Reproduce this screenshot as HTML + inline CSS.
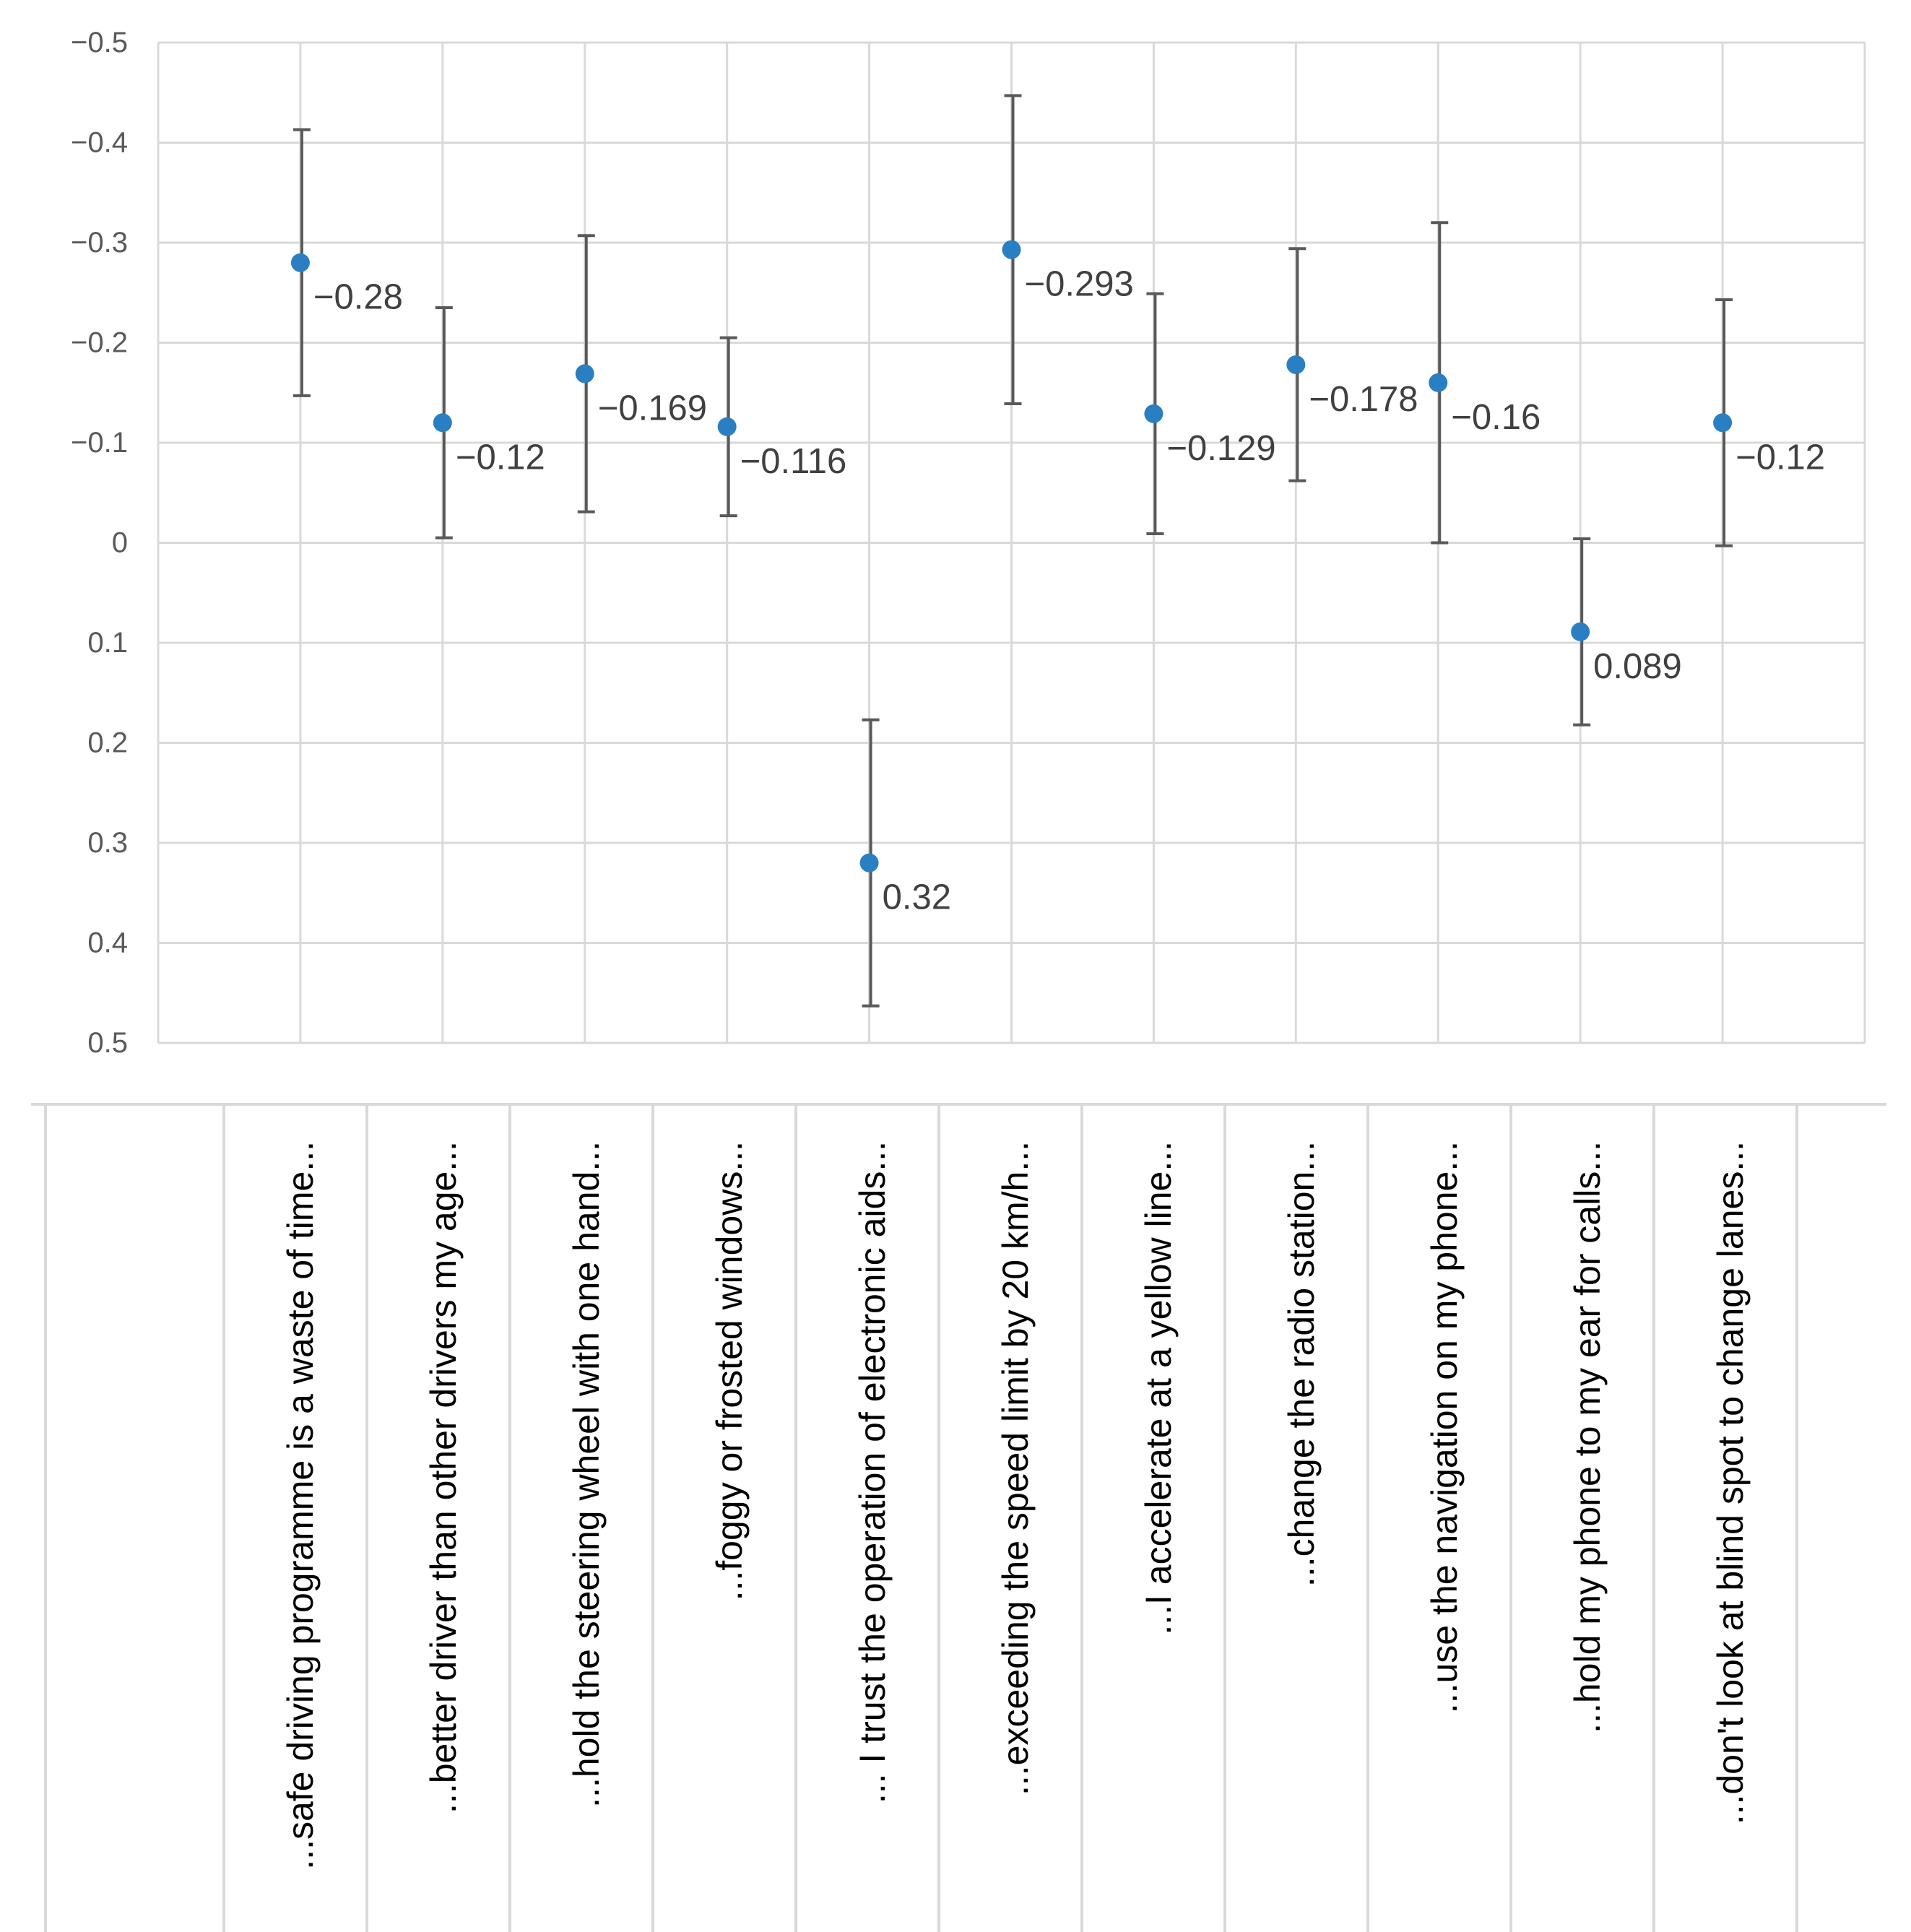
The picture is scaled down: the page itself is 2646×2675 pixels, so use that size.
<!DOCTYPE html>
<html><head><meta charset="utf-8"><style>
html,body{margin:0;padding:0;background:#fff;}
svg{display:block;font-family:"Liberation Sans",sans-serif;}
</style></head><body>
<svg id="chart" width="2646" height="2675" viewBox="0 0 2646 2675" xmlns="http://www.w3.org/2000/svg">
<g id="grid"></g>
<g id="ylabels"></g>
<g id="bars"></g>
<g id="pts"></g>
<g id="dlabels"></g>
<g id="table"></g>
</svg>
<script>
const categories = ["...safe driving programme is a waste of time...","...better driver than other drivers my age...","...hold the steering wheel with one hand...","...foggy or frosted windows...","... I trust the operation of electronic aids...","...exceeding the speed limit by 20 km/h...","...I accelerate at a yellow line...","...change the radio station...","...use the navigation on my phone...","...hold my phone to my ear for calls...","...don't look at blind spot to change lanes..."];
const values = [-0.28,-0.12,-0.169,-0.116,0.32,-0.293,-0.129,-0.178,-0.16,0.089,-0.12];
const errUpper = [0.133,0.115,0.138,0.089,0.143,0.154,0.12,0.116,0.16,0.093,0.123];
const errLower = [0.133,0.115,0.138,0.089,0.143,0.154,0.12,0.116,0.16,0.093,0.123];
const valueLabels = ["\u22120.28","\u22120.12","\u22120.169","\u22120.116","0.32","\u22120.293","\u22120.129","\u22120.178","\u22120.16","0.089","\u22120.12"];
const yTicks = [-0.5,-0.4,-0.3,-0.2,-0.1,0,0.1,0.2,0.3,0.4,0.5];
const yTickLabels = ["\u22120.5","\u22120.4","\u22120.3","\u22120.2","\u22120.1","0","0.1","0.2","0.3","0.4","0.5"];

const NS="http://www.w3.org/2000/svg";
const L=219,R=2582,T=59,B=1444;
const yMin=-0.5,yMax=0.5;
function y(v){return T+(v-yMin)/(yMax-yMin)*(B-T);}
const nSlots=categories.length+1;
function x(i){return L+(i+1)*(R-L)/nSlots;}
function mk(tag,attrs,parent){const e=document.createElementNS(NS,tag);for(const k in attrs)e.setAttribute(k,attrs[k]);parent.appendChild(e);return e;}
const G=document.getElementById('grid'),YL=document.getElementById('ylabels'),EB=document.getElementById('bars'),P=document.getElementById('pts'),DL=document.getElementById('dlabels'),TB=document.getElementById('table');
const gc="#d9d9d9";
yTicks.forEach((t,i)=>{
  const ln=mk('line',{x1:L,x2:R,y1:y(t),y2:y(t),stroke:gc,'stroke-width':3},G);
  
  
  const tx=mk('text',{x:177,y:y(t)+13,'text-anchor':'end','font-size':40,fill:'#595959'},YL);
  tx.textContent=yTickLabels[i];
  
  
});
for(let i=-1;i<nSlots;i++){
  const xv=L+(i+1)*(R-L)/nSlots;
  const ln=mk('line',{x1:xv,x2:xv,y1:T,y2:B,stroke:gc,'stroke-width':3},G);
  
  
}
values.forEach((v,i)=>{
  const cx=x(i)+2;
  const y1=y(v-errUpper[i]),y2=y(v+errLower[i]);
  const g=mk('g',{stroke:'#595959','stroke-width':4},EB);
  
  
  mk('line',{x1:cx,x2:cx,y1:y1,y2:y2},g);
  mk('line',{x1:cx-12,x2:cx+12,y1:y1,y2:y1},g);
  mk('line',{x1:cx-12,x2:cx+12,y1:y2,y2:y2},g);
  const c=mk('circle',{cx:x(i),cy:y(v),r:13,fill:'#2a7fc2'},P);
  
  
  const t=mk('text',{x:x(i)+18,y:y(v)+64,'font-size':49,fill:'#404040'},DL);
  t.textContent=valueLabels[i];
  
  
});
const tTop=1529,cw=198,c0=310;
const hl=mk('line',{x1:43,x2:2612,y1:tTop,y2:tTop,stroke:gc,'stroke-width':4},TB);


const vl0=mk('line',{x1:63,x2:63,y1:tTop,y2:2675,stroke:gc,'stroke-width':4},TB);


for(let k=0;k<=categories.length;k++){
  const xv=c0+k*cw;
  const vl=mk('line',{x1:xv,x2:xv,y1:tTop,y2:2675,stroke:gc,'stroke-width':4},TB);
  
  
}
categories.forEach((c,k)=>{
  const cx=c0+k*cw+cw/2+24;
  const t=mk('text',{x:0,y:0,transform:`translate(${cx},1580) rotate(-90)`,'text-anchor':'end','font-size':50,fill:'#000'},TB);
  t.textContent=c;
  
  
});
</script>
</body></html>
